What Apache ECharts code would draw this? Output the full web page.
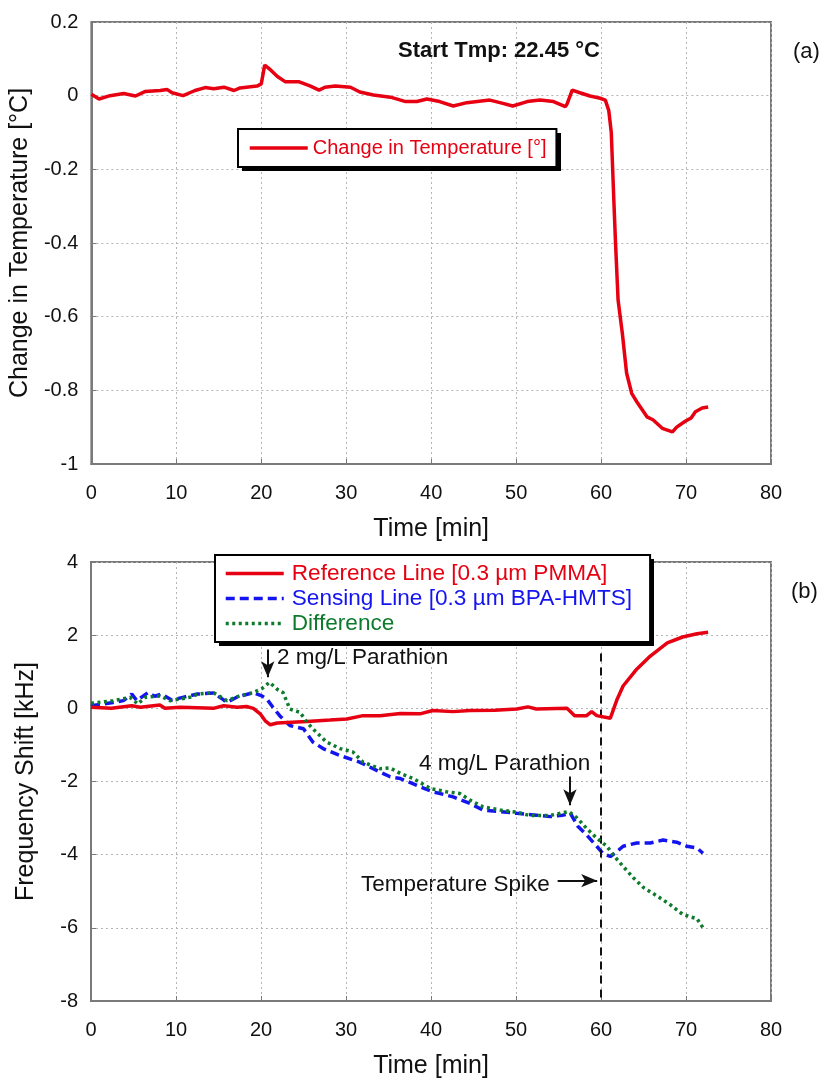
<!DOCTYPE html>
<html>
<head>
<meta charset="utf-8">
<script src="https://cdn.jsdelivr.net/npm/echarts@6/dist/echarts.min.js"></script>
<style>
  html, body { margin: 0; padding: 0; background: #fff; }
  #chart { width: 825px; height: 1080px; }
</style>
</head>
<body>
<div id="chart"></div>
<script>
// ---- (a) temperature change ----
const tempTime = [0, 0.9, 2.2, 3.8, 5.2, 6.3, 8.1, 8.9, 9.5, 10.8, 12.2, 13.4, 14.4, 15.6, 16.8, 17.5, 19.5, 20.0, 20.4, 21.1, 21.9, 22.8, 24.4, 25.8, 26.8, 27.5, 28.7, 30.5, 31.6, 33.2, 35.2, 37.0, 38.3, 39.5, 41.0, 42.6, 44.2, 46.9, 48.1, 49.6, 51.3, 52.8, 54.4, 55.8, 56.0, 56.6, 57.5, 58.7, 59.9, 60.5, 60.9, 61.2, 61.5, 61.7, 62.0, 62.5, 63.0, 63.6, 64.2, 65.4, 66.1, 67.2, 68.4, 68.9, 69.9, 70.6, 71.1, 71.9, 72.6];
const tempChange = [0.004, -0.009, 0, 0.006, -0.001, 0.011, 0.014, 0.017, 0.008, 0, 0.014, 0.022, 0.019, 0.023, 0.014, 0.021, 0.026, 0.032, 0.083, 0.07, 0.052, 0.038, 0.038, 0.026, 0.015, 0.023, 0.026, 0.023, 0.01, 0.002, -0.004, -0.016, -0.016, -0.009, -0.016, -0.028, -0.019, -0.012, -0.019, -0.028, -0.016, -0.012, -0.016, -0.03, -0.022, 0.015, 0.008, -0.001, -0.007, -0.012, -0.04, -0.1, -0.284, -0.4, -0.555, -0.645, -0.753, -0.808, -0.831, -0.872, -0.88, -0.903, -0.913, -0.9, -0.884, -0.875, -0.858, -0.848, -0.845];

// ---- (b) frequency shifts ----
const refTime = [0, 2.4, 4.8, 5.8, 8.1, 8.7, 10.5, 14.4, 15.6, 17.2, 18.3, 19.1, 19.9, 20.5, 21.1, 21.9, 25.4, 28.1, 30.1, 32, 34, 36.4, 38.7, 40.2, 42.6, 44.6, 47.5, 50.1, 51.4, 52.4, 56, 56.9, 58.3, 58.9, 59.5, 61.1, 61.9, 62.6, 64.2, 65.8, 67.8, 69.6, 71.3, 72.6];
const refShift = [0.03, 0, 0.07, 0.03, 0.09, 0, 0.03, 0, 0.07, 0.03, 0.05, 0, -0.15, -0.34, -0.45, -0.4, -0.36, -0.32, -0.29, -0.2, -0.2, -0.14, -0.15, -0.06, -0.09, -0.06, -0.05, -0.02, 0.04, -0.02, 0, -0.2, -0.2, -0.09, -0.2, -0.27, 0.25, 0.61, 1.07, 1.43, 1.79, 1.95, 2.04, 2.08];

const sensTime = [0, 2.6, 3.8, 4.8, 5.4, 6.7, 7.5, 8.3, 9.5, 10.8, 12.5, 14.4, 15.6, 16, 17.2, 19.1, 20.1, 20.7, 21.4, 22.2, 23.4, 25, 26.1, 27.3, 29.3, 31.6, 34, 35.2, 36.4, 38.7, 40.2, 42.6, 44.6, 46.1, 48.1, 50.1, 52.4, 54, 55.5, 56.4, 57.3, 58.3, 59.5, 60.2, 61.1, 61.9, 62.6, 64.2, 65.8, 67.3, 68.9, 70.1, 71.3, 72];
const sensShift = [0.07, 0.16, 0.21, 0.39, 0.21, 0.43, 0.33, 0.39, 0.23, 0.3, 0.39, 0.42, 0.23, 0.16, 0.31, 0.43, 0.34, 0.25, 0.03, -0.2, -0.47, -0.56, -0.92, -1.1, -1.29, -1.47, -1.74, -1.87, -1.92, -2.14, -2.28, -2.42, -2.6, -2.78, -2.82, -2.87, -2.92, -2.96, -2.92, -2.87, -3.23, -3.46, -3.77, -3.96, -4.05, -3.91, -3.77, -3.68, -3.68, -3.6, -3.66, -3.77, -3.82, -3.96];

const diffTime = [0, 2.6, 4.6, 5.5, 6.4, 8.1, 9.3, 11.6, 12.6, 14.4, 16, 17.5, 19.1, 20.1, 21, 21.9, 22.6, 23.4, 24.6, 25.4, 26.1, 27.7, 29.3, 30.8, 32, 34, 35.2, 36.4, 37.9, 39.9, 41.8, 43.4, 44.6, 46.1, 48.1, 50.1, 51.6, 54, 56.2, 57.2, 58.3, 59.5, 60.7, 61.4, 62.6, 63.8, 65, 66.6, 68.1, 69.6, 70.5, 71.3, 72];
const diffShift = [0.14, 0.21, 0.3, 0.12, 0.3, 0.34, 0.21, 0.3, 0.39, 0.43, 0.21, 0.34, 0.43, 0.54, 0.71, 0.52, 0.43, -0.02, -0.11, -0.38, -0.56, -0.92, -1.1, -1.19, -1.47, -1.65, -1.63, -1.78, -1.92, -2.19, -2.28, -2.33, -2.51, -2.69, -2.78, -2.84, -2.93, -2.93, -2.82, -3.0, -3.28, -3.55, -3.77, -4.0, -4.32, -4.63, -4.9, -5.13, -5.36, -5.63, -5.7, -5.75, -6.0];

// axis ticks
const timeTicks = [0, 10, 20, 30, 40, 50, 60, 70, 80];
const tempTicks = [-1, -0.8, -0.6, -0.4, -0.2, 0, 0.2];
const shiftTicks = [-8, -6, -4, -2, 0, 2, 4];

// event markers (min)
const spikeTime = 60;
const spikeLineTop = 1.5;

const names = {
  temp: 'Change in Temperature [°]',
  ref: 'Reference Line [0.3 µm PMMA]',
  sens: 'Sensing Line [0.3 µm BPA-HMTS]',
  diff: 'Difference'
};

const RED = '#e60012';
const BLUE = '#1414f0';
const GREEN = '#0d7a2c';
const FONT = '"Liberation Sans", Arial, sans-serif';
const LW = 3.5;

const zip = (xs, ys) => xs.map((x, i) => [x, ys[i]]);
const fmt = v => String(+(+v).toFixed(1));

const chart = echarts.init(document.getElementById('chart'), null, { renderer: 'canvas' });

function xAxisFor(gridIndex) {
  return {
    type: 'value', gridIndex,
    min: timeTicks[0], max: timeTicks[timeTicks.length - 1], interval: 10,
    name: 'Time [min]', nameLocation: 'middle', nameGap: 53,
    nameTextStyle: { fontFamily: FONT, fontSize: 25, color: '#111' },
    axisLine: { show: true, onZero: false, lineStyle: { color: '#7a7a7a', width: 2 } },
    axisTick: { show: true, inside: true, length: 5, lineStyle: { color: '#7a7a7a' } },
    axisLabel: { fontFamily: FONT, fontSize: 20, color: '#111', margin: 19, formatter: v => String(v) },
    splitLine: { show: true, lineStyle: { color: '#b4b4b4', type: [2, 3], width: 1 } }
  };
}

function yAxisFor(gridIndex, ticks, step, title) {
  return {
    type: 'value', gridIndex,
    min: ticks[0], max: ticks[ticks.length - 1], interval: step,
    name: title, nameLocation: 'middle', nameGap: 52,
    nameTextStyle: { fontFamily: FONT, fontSize: 25, color: '#111' },
    axisLine: { show: true, onZero: false, lineStyle: { color: '#7a7a7a', width: 2 } },
    axisTick: { show: true, inside: true, length: 5, lineStyle: { color: '#7a7a7a' } },
    axisLabel: { fontFamily: FONT, fontSize: 20, color: '#111', margin: 13, formatter: fmt },
    splitLine: { show: true, lineStyle: { color: '#b4b4b4', type: [2, 3], width: 1 } }
  };
}

const legendBase = {
  backgroundColor: '#fff',
  borderColor: '#000',
  borderWidth: 2,
  borderRadius: 0,
  itemWidth: 58,
  itemHeight: 14,
  selectedMode: false,
  orient: 'vertical',
  align: 'left',
  itemStyle: { opacity: 0 },
  lineStyle: { width: LW },
  z: 6
};

// legend boxes (pixel frames) and their drop shadows
const legendA = { left: 238, top: 129, w: 319, h: 38 };
const legendB = { left: 215, top: 555, w: 435, h: 87 };
const shadowOff = 4;

const option = {
  animation: false,
  backgroundColor: '#fff',
  grid: [
    { left: 91, right: 54, top: 22, height: 442, show: true, borderColor: '#7a7a7a', borderWidth: 2, backgroundColor: 'transparent' },
    { left: 91, right: 54, top: 562, height: 442, show: true, borderColor: '#7a7a7a', borderWidth: 2, backgroundColor: 'transparent' }
  ],
  xAxis: [xAxisFor(0), xAxisFor(1)],
  yAxis: [
    yAxisFor(0, tempTicks, 0.2, 'Change in Temperature [°C]'),
    yAxisFor(1, shiftTicks, 2, 'Frequency Shift [kHz]')
  ],
  legend: [
    Object.assign({}, legendBase, {
      left: legendA.left, top: legendA.top,
      padding: [8, 10, 8, 10],
      data: [{ name: names.temp, textStyle: { color: RED } }],
      textStyle: { fontFamily: FONT, fontSize: 20, lineHeight: 22 }
    }),
    Object.assign({}, legendBase, {
      left: legendB.left, top: legendB.top,
      padding: [7, 18, 7, 9],
      itemGap: 2,
      data: [
        { name: names.ref, textStyle: { color: RED } },
        { name: names.sens, textStyle: { color: BLUE } },
        { name: names.diff, textStyle: { color: GREEN } }
      ],
      textStyle: { fontFamily: FONT, fontSize: 22.6, lineHeight: 23, padding: [0, 0, 0, 3] }
    })
  ],
  series: [
    {
      name: names.temp, type: 'line', xAxisIndex: 0, yAxisIndex: 0,
      data: zip(tempTime, tempChange), symbol: 'none', smooth: false,
      lineStyle: { color: RED, width: LW }, itemStyle: { color: RED }, z: 5
    },
    {
      name: names.ref, type: 'line', xAxisIndex: 1, yAxisIndex: 1,
      data: zip(refTime, refShift), symbol: 'none',
      lineStyle: { color: RED, width: LW }, itemStyle: { color: RED }, z: 5
    },
    {
      name: names.sens, type: 'line', xAxisIndex: 1, yAxisIndex: 1,
      data: zip(sensTime, sensShift), symbol: 'none',
      lineStyle: { color: BLUE, width: LW, type: [9, 5] }, itemStyle: { color: BLUE }, z: 4
    },
    {
      name: names.diff, type: 'line', xAxisIndex: 1, yAxisIndex: 1,
      data: zip(diffTime, diffShift), symbol: 'none',
      lineStyle: { color: GREEN, width: LW, type: [3, 3.5] }, itemStyle: { color: GREEN }, z: 5,
      markLine: {
        silent: true, animation: false,
        label: { show: false },
        symbolSize: [10, 16],
        data: [
          // temperature spike marker
          [
            { coord: [spikeTime, spikeLineTop], symbol: 'none', lineStyle: { color: '#111', width: 2, type: [8, 6] } },
            { coord: [spikeTime, shiftTicks[0]], symbol: 'none' }
          ],
          // 2 mg/L injection
          [
            { coord: [20.8, 1.61], symbol: 'none', lineStyle: { color: '#111', width: 2, type: 'solid' } },
            { coord: [20.8, 0.85], symbol: 'arrow' }
          ],
          // 4 mg/L injection
          [
            { coord: [56.35, -1.86], symbol: 'none', lineStyle: { color: '#111', width: 2, type: 'solid' } },
            { coord: [56.35, -2.65], symbol: 'arrow' }
          ],
          // spike pointer
          [
            { coord: [54.9, -4.71], symbol: 'none', lineStyle: { color: '#111', width: 2, type: 'solid' } },
            { coord: [59.55, -4.71], symbol: 'arrow' }
          ]
        ]
      }
    }
  ],
  graphic: [
    { type: 'rect', z: 5, silent: true, shape: { x: legendA.left + shadowOff, y: legendA.top + shadowOff, width: legendA.w, height: legendA.h }, style: { fill: '#000' } },
    { type: 'rect', z: 5, silent: true, shape: { x: legendB.left + shadowOff, y: legendB.top + shadowOff, width: legendB.w, height: legendB.h }, style: { fill: '#000' } },
    { type: 'text', left: 398, top: 40, style: { text: 'Start Tmp: 22.45 °C', font: 'bold 22px ' + FONT, fill: '#111' } },
    { type: 'text', left: 793, top: 41, style: { text: '(a)', font: '22px ' + FONT, fill: '#111' } },
    { type: 'text', left: 791, top: 581, style: { text: '(b)', font: '22px ' + FONT, fill: '#111' } },
    { type: 'text', left: 277, top: 646, style: { text: '2 mg/L Parathion', font: '22.5px ' + FONT, fill: '#111' } },
    { type: 'text', left: 419, top: 752, style: { text: '4 mg/L Parathion', font: '22.5px ' + FONT, fill: '#111' } },
    { type: 'text', left: 361, top: 873, style: { text: 'Temperature Spike', font: '22.5px ' + FONT, fill: '#111' } }
  ]
};

chart.setOption(option);
</script>
</body>
</html>
